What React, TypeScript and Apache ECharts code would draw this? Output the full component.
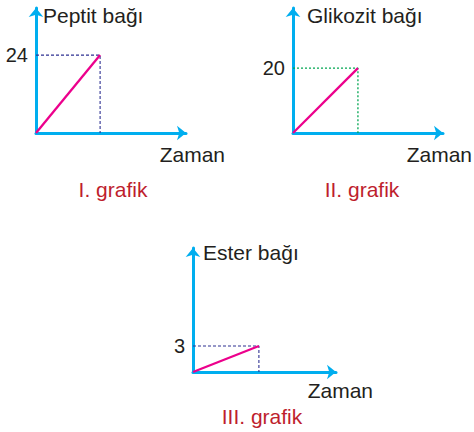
import React, { useEffect, useRef } from "react";
import * as echarts from "echarts";

// Time points (unitless) shared by the three panels
const timeValues = [0, 1];

// Bond counts formed over time
const peptitValues = [0, 24];
const glikozitValues = [0, 20];
const esterValues = [0, 3];

// Marked tick labels on each y axis
const peptitTick = 24;
const glikozitTick = 20;
const esterTick = 3;

const yAxisNames = ["Peptit bağı", "Glikozit bağı", "Ester bağı"];
const xAxisName = "Zaman";
const panelCaptions = ["I. grafik", "II. grafik", "III. grafik"];

const FONT = '"Liberation Sans", Arial, Helvetica, sans-serif';
const AXIS_BLUE = "#00aeef";
const LINE_MAGENTA = "#ec008c";
const GUIDE_BLUE = "#2e3192";
const GUIDE_GREEN = "#00a651";
const TEXT_DARK = "#231f20";
const CAPTION_RED = "#be1e2d";

type Panel = {
  values: number[];
  tick: number;
  yName: string;
  yMax: number;
  xMax: number;
  grid: { left: number; top: number; width: number; height: number };
  guideColor: string;
  guideDash: number[];
  guideWidth: number;
  yNamePad: number;
  yNameGap: number;
  xNameGap: number;
  xNamePadTop: number;
};

const panels: Panel[] = [
  {
    values: peptitValues,
    tick: peptitTick,
    yName: yAxisNames[0],
    yMax: 38.5,
    xMax: 2.34,
    grid: { left: 36, top: 8, width: 150, height: 125 },
    guideColor: GUIDE_BLUE,
    guideDash: [3, 2],
    guideWidth: 1.1,
    yNamePad: 7,
    yNameGap: -7,
    xNameGap: 39,
    xNamePadTop: 11,
  },
  {
    values: glikozitValues,
    tick: glikozitTick,
    yName: yAxisNames[1],
    yMax: 38.5,
    xMax: 2.31,
    grid: { left: 293, top: 8, width: 150, height: 125 },
    guideColor: GUIDE_GREEN,
    guideDash: [2, 2],
    guideWidth: 1.3,
    yNamePad: 14,
    yNameGap: -7,
    xNameGap: 29,
    xNamePadTop: 11,
  },
  {
    values: esterValues,
    tick: esterTick,
    yName: yAxisNames[2],
    yMax: 14.3,
    xMax: 2.17,
    grid: { left: 193, top: 248, width: 143, height: 124 },
    guideColor: GUIDE_BLUE,
    guideDash: [3, 2],
    guideWidth: 1.1,
    yNamePad: 10,
    yNameGap: -4,
    xNameGap: 37,
    xNamePadTop: 8,
  },
];

const captionPositions = [
  { x: 113, y: 189.5 },
  { x: 362, y: 189.5 },
  { x: 262, y: 416.5 },
];

function buildOption(): echarts.EChartsOption {
  const axisLine = {
    onZero: true,
    symbol: ["none", "arrow"],
    symbolSize: [11, 9],
    lineStyle: { color: AXIS_BLUE, width: 3 },
  };

  const grid = panels.map((p) => ({ ...p.grid, containLabel: false }));

  const xAxis = panels.map((p, i) => ({
    type: "value" as const,
    gridIndex: i,
    min: 0,
    max: p.xMax,
    interval: 1,
    axisLine,
    axisTick: { show: false },
    axisLabel: { show: false },
    splitLine: { show: false },
    name: xAxisName,
    nameLocation: "end" as const,
    nameGap: p.xNameGap,
    nameTextStyle: {
      fontFamily: FONT,
      fontSize: 21,
      color: TEXT_DARK,
      align: "right",
      verticalAlign: "top",
      lineHeight: 21,
      padding: [p.xNamePadTop, 0, 0, 0],
    },
  }));

  const yAxis = panels.map((p, i) => ({
    type: "value" as const,
    gridIndex: i,
    min: 0,
    max: p.yMax,
    interval: p.tick,
    axisLine,
    axisTick: { show: false },
    splitLine: { show: false },
    axisLabel: {
      margin: 8,
      fontFamily: FONT,
      fontSize: 20,
      color: TEXT_DARK,
      formatter: (v: number) => (v === p.tick ? String(v) : ""),
    },
    name: p.yName,
    nameLocation: "end" as const,
    nameGap: p.yNameGap,
    nameTextStyle: {
      fontFamily: FONT,
      fontSize: 21,
      color: TEXT_DARK,
      align: "left",
      verticalAlign: "middle",
      padding: [0, 0, 0, p.yNamePad],
    },
  }));

  const series: echarts.SeriesOption[] = [];
  panels.forEach((p, i) => {
    const endX = timeValues[timeValues.length - 1];
    const endY = p.values[p.values.length - 1];
    // dashed projection from the end point onto both axes
    series.push({
      type: "line",
      xAxisIndex: i,
      yAxisIndex: i,
      data: [
        [0, endY],
        [endX, endY],
        [endX, 0],
      ],
      symbol: "none",
      silent: true,
      lineStyle: { color: p.guideColor, width: p.guideWidth, type: p.guideDash },
      z: 1,
    });
    series.push({
      type: "line",
      xAxisIndex: i,
      yAxisIndex: i,
      data: timeValues.map((t, k) => [t, p.values[k]]),
      symbol: "none",
      lineStyle: { color: LINE_MAGENTA, width: 2.3 },
      z: 3,
    });
  });

  const graphic = panelCaptions.map((text, i) => ({
    type: "text" as const,
    x: captionPositions[i].x,
    y: captionPositions[i].y,
    style: {
      text,
      fill: CAPTION_RED,
      font: `21px ${FONT}`,
      align: "center",
      verticalAlign: "middle",
    },
  }));

  return {
    animation: false,
    backgroundColor: "#ffffff",
    grid,
    xAxis,
    yAxis,
    series,
    graphic,
  } as echarts.EChartsOption;
}

export default function App() {
  const ref = useRef<HTMLDivElement>(null);

  useEffect(() => {
    if (!ref.current) return;
    const chart = echarts.init(ref.current, undefined, { renderer: "svg" });
    chart.setOption(buildOption());
    return () => chart.dispose();
  }, []);

  return (
    <div
      ref={ref}
      style={{ position: "absolute", left: 0, top: 0, width: 474, height: 432 }}
    />
  );
}
